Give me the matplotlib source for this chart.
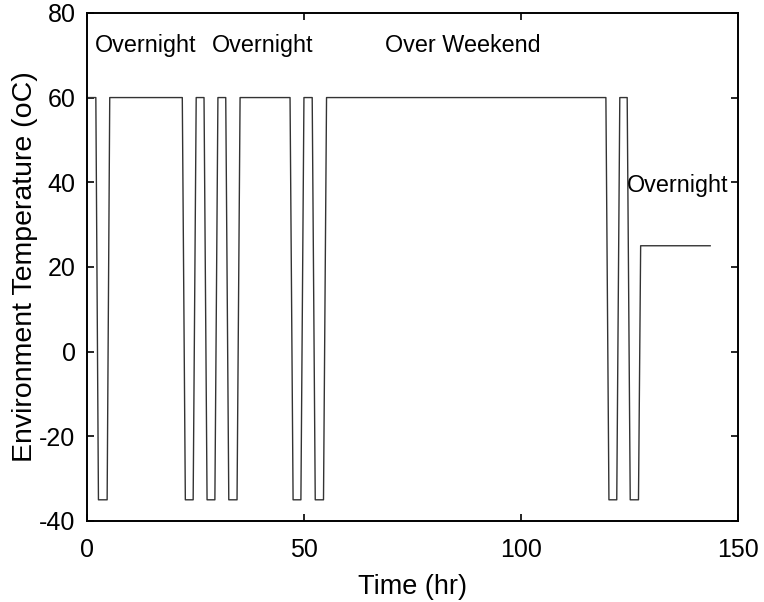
import matplotlib
matplotlib.use("Agg")
import matplotlib.pyplot as plt

# Environment temperature profile (time in hours, temperature in oC)
time_hr = [0, 2.1, 2.7, 4.7, 5.3, 22.0, 22.7, 24.5, 25.2, 27.0, 27.7,
           29.5, 30.2, 32.0, 32.7, 34.6, 35.3, 46.8, 47.5, 49.3, 50.0,
           51.9, 52.6, 54.5, 55.2, 119.5, 120.2, 122.0, 122.7, 124.4,
           125.1, 127.0, 127.5, 143.5]
temp_c = [60, 60, -35, -35, 60, 60, -35, -35, 60, 60, -35,
          -35, 60, 60, -35, -35, 60, 60, -35, -35, 60,
          60, -35, -35, 60, 60, -35, -35, 60, 60,
          -35, -35, 25, 25]

# Annotations: label, x (hr), y (oC)
labels = ["Overnight", "Overnight", "Over Weekend", "Overnight"]
label_x = [1.9, 28.8, 68.7, 124.3]
label_y = [72.4, 72.4, 72.4, 39.3]

plt.rcParams["font.family"] = ["Liberation Sans", "DejaVu Sans"]
plt.rcParams["axes.unicode_minus"] = False

fig = plt.figure(figsize=(7.64, 6.02), dpi=100)
ax = fig.add_axes([0.1135, 0.1346, 0.853, 0.844])

ax.plot(time_hr, temp_c, color="#333333", linewidth=1.0)

for text, x, y in zip(labels, label_x, label_y):
    ax.text(x, y, text, fontsize=16.8, ha="left", va="center", color="black")

ax.set_xlim(0, 150)
ax.set_ylim(-40, 80)
ax.set_xticks([0, 50, 100, 150])
ax.set_yticks(range(-40, 81, 20))
ax.tick_params(direction="in", top=True, right=True, length=5, width=1.2,
               labelsize=18)
ax.tick_params(axis="x", pad=12)
ax.tick_params(axis="y", pad=8)
for spine in ax.spines.values():
    spine.set_linewidth(1.4)

ax.set_xlabel("Time (hr)", fontsize=19.5, labelpad=9)
ax.set_ylabel("Environment Temperature (oC)", fontsize=20.5, labelpad=1)

fig.savefig("out.png", dpi=100)
